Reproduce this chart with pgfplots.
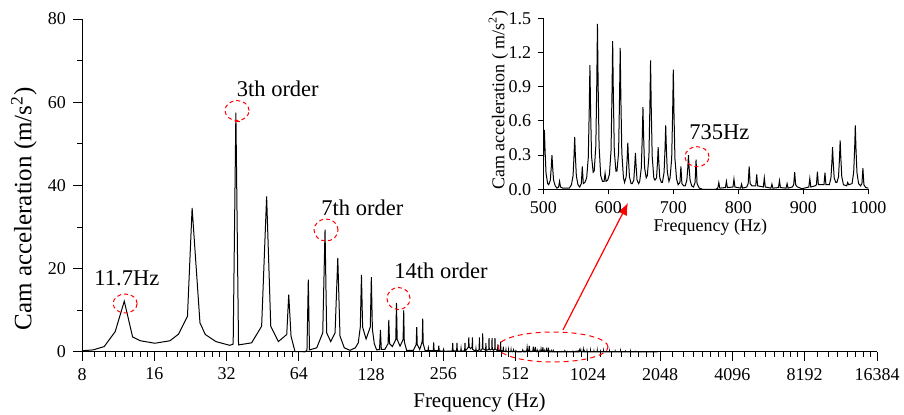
\documentclass[border=0pt]{standalone}
\usepackage{fontspec}
\setmainfont{Liberation Serif}
\usepackage{pgfplots}
\usepackage{pgfplotstable}
\pgfplotsset{compat=1.18}
\usetikzlibrary{arrows.meta}

% spectrum: frequency (Hz), amplitude (m/s^2)
\pgfplotstableread{
f a
8.0 0.30
8.9 0.50
9.9 1.30
11.0 4.90
12.0 12.20
13.0 3.60
14.0 2.70
16.1 2.10
18.6 2.70
20.2 4.30
22.0 8.60
23.0 34.60
24.8 7.00
26.1 4.20
28.9 2.50
33.0 1.60
34.1 1.90
35.0 57.50
35.9 1.70
40.7 2.20
44.8 6.20
47.0 37.40
48.9 6.20
52.6 2.50
57.0 4.20
58.1 13.80
59.4 3.80
61.7 0.10
67.9 0.05
69.2 0.40
70.1 17.40
70.9 0.50
76.0 1.00
80.5 4.60
82.3 29.40
83.6 4.60
86.9 2.50
90.6 4.60
93.0 22.60
95.0 3.80
99.0 1.00
104.6 0.40
110.0 1.00
113.2 2.20
115.4 6.00
116.7 18.50
118.0 6.00
122.0 3.10
127.0 6.00
128.3 18.00
129.6 5.50
132.0 2.00
135.0 0.50
138.8 0.60
140.0 5.30
141.2 0.60
146.0 0.60
150.6 2.00
151.7 7.70
152.8 2.00
157.0 1.30
162.2 3.00
163.3 11.80
164.4 3.00
169.0 1.40
174.0 3.00
175.0 10.00
176.0 2.50
180.0 0.40
192.0 0.40
197.3 1.80
198.3 6.00
199.3 1.80
204.0 0.60
209.0 2.50
210.0 8.00
211.0 2.00
215.0 0.30
220.7 0.30
221.7 1.00
222.7 0.30
232.3 0.30
233.3 2.30
234.3 0.30
244.0 0.30
245.0 1.50
246.0 0.30
255.7 0.15
256.7 0.60
257.7 0.15
279.0 0.25
280.0 2.20
281.0 0.25
290.7 0.25
291.7 2.20
292.7 0.25
302.3 0.20
303.3 0.90
304.3 0.20
314.0 0.30
315.0 2.20
316.0 0.30
321.0 0.70
325.7 1.20
326.7 3.50
327.7 1.20
332.5 0.80
337.3 1.20
338.3 3.50
339.3 0.60
349.0 0.20
350.0 0.80
351.0 0.20
360.7 0.50
361.7 3.50
362.7 0.50
367.5 0.40
372.3 0.80
373.3 4.50
374.3 0.80
384.0 0.40
385.0 2.10
386.0 0.40
395.7 0.60
396.7 3.30
397.7 0.60
402.5 0.50
407.3 0.70
408.3 3.30
409.3 0.70
414.0 0.40
419.0 0.70
420.0 3.30
421.0 0.70
430.7 0.30
431.7 1.80
432.7 0.30
442.3 0.40
443.3 2.50
444.3 0.40
454.0 0.20
455.0 1.30
456.0 0.20
465.7 0.10
466.7 0.50
467.7 0.10
477.3 0.05
478.3 0.50
479.3 0.05
489.0 0.10
490.0 0.50
491.0 0.10
496.7 0.04
499.2 0.14
500.7 0.34
501.7 0.52
502.7 0.34
504.2 0.14
506.7 0.05
508.3 0.04
510.8 0.08
512.3 0.20
513.3 0.30
514.3 0.20
515.8 0.08
518.3 0.03
521.0 0.01
523.5 0.02
525.0 0.07
526.5 0.02
530.0 0.01
540.0 0.01
543.3 0.04
545.8 0.12
547.3 0.30
548.3 0.46
549.3 0.30
550.8 0.12
553.3 0.04
556.0 0.02
558.5 0.05
560.0 0.20
561.5 0.05
564.0 0.06
566.7 0.10
569.2 0.28
570.7 0.71
571.7 1.09
572.7 0.71
574.2 0.29
576.7 0.15
578.3 0.16
580.8 0.38
582.3 0.94
583.3 1.45
584.3 0.94
585.8 0.38
588.3 0.12
591.0 0.07
593.5 0.07
595.0 0.14
596.5 0.07
599.0 0.08
601.7 0.13
604.2 0.34
605.7 0.85
606.7 1.30
607.7 0.85
609.2 0.34
611.7 0.16
613.3 0.16
615.8 0.32
617.3 0.81
618.3 1.24
619.3 0.81
620.8 0.32
623.3 0.10
625.0 0.06
627.5 0.11
629.0 0.27
630.0 0.41
631.0 0.27
632.5 0.11
635.0 0.05
636.7 0.05
639.2 0.08
640.7 0.21
641.7 0.32
642.7 0.21
644.2 0.08
646.7 0.05
648.3 0.07
650.8 0.19
652.3 0.47
653.3 0.72
654.3 0.47
655.8 0.19
658.3 0.10
660.0 0.12
662.5 0.29
664.0 0.73
665.0 1.13
666.0 0.73
667.5 0.29
670.0 0.10
671.7 0.08
674.2 0.10
675.7 0.24
676.7 0.37
677.7 0.24
679.2 0.10
681.7 0.06
683.3 0.06
685.8 0.15
687.3 0.36
688.3 0.56
689.3 0.36
690.8 0.15
693.3 0.07
695.0 0.10
697.5 0.27
699.0 0.68
700.0 1.05
701.0 0.68
702.5 0.27
705.0 0.09
707.5 0.04
710.2 0.06
711.7 0.20
713.2 0.05
716.0 0.03
718.3 0.03
720.8 0.08
722.3 0.19
723.3 0.30
724.3 0.19
725.8 0.08
728.3 0.03
731.0 0.02
733.5 0.06
735.0 0.26
736.5 0.05
740.0 0.01
745.0 0.00
765.0 0.00
768.5 0.01
770.0 0.06
771.5 0.01
780.2 0.015
781.7 0.07
783.2 0.015
791.8 0.02
793.3 0.09
794.8 0.02
803.5 0.01
805.0 0.045
806.5 0.01
813.0 0.02
815.2 0.05
816.7 0.20
818.2 0.05
821.0 0.03
826.8 0.03
828.3 0.13
829.8 0.03
838.5 0.02
840.0 0.10
841.5 0.02
850.2 0.01
851.7 0.045
853.2 0.01
861.8 0.015
863.3 0.075
864.8 0.015
873.5 0.01
875.0 0.05
876.5 0.01
883.0 0.02
885.2 0.04
886.7 0.15
888.2 0.04
891.0 0.02
898.0 0.005
908.5 0.02
910.0 0.095
911.5 0.02
918.0 0.03
920.2 0.04
921.7 0.155
923.2 0.04
930.0 0.04
931.8 0.04
933.3 0.145
934.8 0.04
940.0 0.04
942.5 0.10
944.0 0.24
945.0 0.37
946.0 0.24
947.5 0.10
950.0 0.06
951.7 0.06
954.2 0.11
955.7 0.28
956.7 0.43
957.7 0.28
959.2 0.11
961.7 0.04
966.8 0.03
968.3 0.06
969.8 0.04
975.0 0.05
977.5 0.15
979.0 0.36
980.0 0.56
981.0 0.36
982.5 0.15
985.0 0.05
988.0 0.03
990.2 0.05
991.7 0.185
993.2 0.04
996.0 0.015
1000.0 0.01
1013.5 0.01
1015.0 0.25
1016.5 0.01
1048.5 0.01
1050.0 0.30
1051.5 0.01
1083.5 0.01
1085.0 0.20
1086.5 0.01
1118.5 0.01
1120.0 0.30
1121.5 0.01
1153.5 0.01
1155.0 0.15
1156.5 0.01
1188.5 0.01
1190.0 0.25
1191.5 0.01
1258.5 0.01
1260.0 0.20
1261.5 0.01
1328.5 0.01
1330.0 0.15
1331.5 0.01
1398.5 0.01
1400.0 0.20
1401.5 0.01
1468.5 0.01
1470.0 0.10
1471.5 0.01
1538.5 0.01
1540.0 0.15
1541.5 0.01
1608.5 0.01
1610.0 0.08
1611.5 0.01
2000.0 0.01
}\spec

\begin{document}
\begin{tikzpicture}
\useasboundingbox (-41pt,-31.5pt) rectangle (411pt,176pt);
\begin{axis}[
  at={(0pt,0pt)}, anchor=south west,
  scale only axis, width=397.5pt, height=166.5pt,
  xmode=log, log basis x=2,
  xmin=8, xmax=16384, ymin=0, ymax=80,
  axis x line*=bottom, axis y line*=left,
  axis line style={line width=0.5pt},
  tick align=outside, major tick length=4.5pt, minor tick length=2.3pt,
  every tick/.style={black, line width=0.5pt},
  xtick={8,16,32,64,128,256,512,1024,2048,4096,8192,16384},
  xticklabels={8,16,32,64,128,256,512,1024,2048,4096,8192,16384},
  % minor ticks of a base-2 axis, as extra ticks without labels
  extra x ticks={9,10,11,12,13,14,15,18,20,22,24,26,28,30,36,40,44,48,52,56,60,
    72,80,88,96,104,112,120,144,160,176,192,208,224,240,288,320,352,384,416,448,480,
    576,640,704,768,832,896,960,1152,1280,1408,1536,1664,1792,1920,
    2304,2560,2816,3072,3328,3584,3840,4608,5120,5632,6144,6656,7168,7680,
    9216,10240,11264,12288,13312,14336,15360},
  extra x tick labels={},
  extra x tick style={major tick length=2.3pt},
  ytick={0,20,40,60,80}, minor ytick={10,30,50,70},
  tick label style={font=\fontsize{9}{10}\selectfont},
  /pgf/number format/assume math mode=true,
  xlabel={Frequency (Hz)},
  ylabel={Cam acceleration (m/s\textsuperscript{2})},
  xlabel style={font=\fontsize{10.5}{12}\selectfont, at={(axis description cs:0.5,-0.153)}, anchor=center},
  ylabel style={font=\fontsize{12.5}{14}\selectfont, at={(axis description cs:-0.073,0.43)}, anchor=center},
  clip=false,
]
\addplot[black, line width=0.5pt] table[x=f, y=a] {\spec};

\draw[red, line width=0.5pt, dash pattern=on 2pt off 1.5pt] (axis cs:12.1,11.65) ellipse [x radius=6pt, y radius=4.75pt];
\draw[red, line width=0.5pt, dash pattern=on 2pt off 1.5pt] (axis cs:35.4,58.0) ellipse [x radius=6pt, y radius=5pt];
\draw[red, line width=0.5pt, dash pattern=on 2pt off 1.5pt] (axis cs:83.1,29.3) ellipse [x radius=6pt, y radius=5.5pt];
\draw[red, line width=0.5pt, dash pattern=on 2pt off 1.5pt] (axis cs:166.5,12.85) ellipse [x radius=5.75pt, y radius=5.5pt];
\draw[red, line width=0.5pt, dash pattern=on 2.5pt off 2pt] (axis cs:733,1.2) ellipse [x radius=27.5pt, y radius=7.5pt];
\draw[red, line width=0.6pt] (axis cs:34.7,55.3) -- (axis cs:36.4,55.3);
\draw[red, line width=0.6pt, -{Latex[length=6pt, width=5pt]}] (axis cs:806,5.3) -- (axis cs:1504,35.8);

\node[inner sep=0pt, font=\fontsize{11.25}{13}\selectfont] at (axis cs:12.3,17.8) {11.7Hz};
\node[anchor=west, inner sep=0pt, font=\fontsize{11.25}{13}\selectfont] at (axis cs:35.2,63.3) {3th order};
\node[anchor=west, inner sep=0pt, font=\fontsize{11.25}{13}\selectfont] at (axis cs:79.2,34.6) {7th order};
\node[anchor=west, inner sep=0pt, font=\fontsize{11.25}{13}\selectfont] at (axis cs:159.5,19.5) {14th order};
\end{axis}

\begin{axis}[
  at={(230.65pt,81.35pt)}, anchor=south west,
  scale only axis, width=162.5pt, height=85.5pt,
  xmin=500, xmax=1000, ymin=0, ymax=1.5,
  axis x line*=bottom, axis y line*=left,
  axis line style={line width=0.5pt},
  tick align=outside, major tick length=2.5pt,
  every tick/.style={black, line width=0.5pt},
  xtick={500,600,700,800,900,1000},
  ytick={0,0.3,0.6,0.9,1.2,1.5},
  scaled x ticks=false, scaled y ticks=false,
  xticklabel style={/pgf/number format/.cd, fixed, 1000 sep={}},
  yticklabel style={/pgf/number format/.cd, fixed, fixed zerofill, precision=1},
  tick label style={font=\fontsize{9}{10}\selectfont},
  /pgf/number format/assume math mode=true,
  xlabel={Frequency (Hz)},
  ylabel={Cam acceleration ( m/s\textsuperscript{2})},
  xlabel style={font=\fontsize{9}{10}\selectfont, at={(axis description cs:0.514,-0.219)}, anchor=center},
  ylabel style={font=\fontsize{9}{10}\selectfont, at={(axis description cs:-0.138,0.522)}, anchor=center},
]
\addplot[black, line width=0.5pt] table[x=f, y=a] {\spec};
\draw[red, line width=0.5pt, dash pattern=on 2pt off 1.5pt] (axis cs:736.5,0.286) ellipse [x radius=6pt, y radius=5pt];
\node[anchor=west, inner sep=0pt, font=\fontsize{11.25}{13}\selectfont] at (axis cs:724.2,0.505) {735Hz};
\end{axis}
\end{tikzpicture}
\end{document}
